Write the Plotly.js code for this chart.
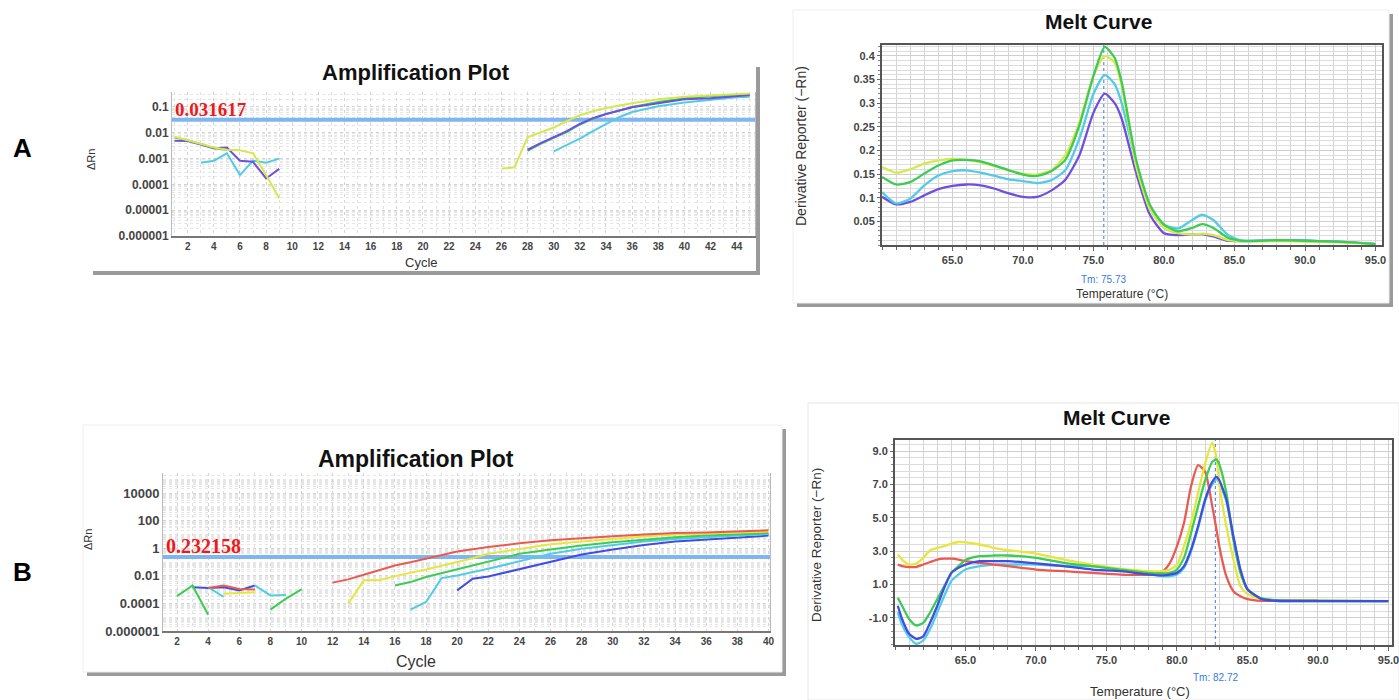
<!DOCTYPE html>
<html><head><meta charset="utf-8">
<script src="https://cdn.plot.ly/plotly-3.0.1.min.js"></script>
<style>html,body{margin:0;padding:0;background:#fff}#chart{width:1399px;height:700px}</style>
</head><body><div id="chart"></div>
<script>
// ---------- Panel A: Amplification Plot (ΔRn, log) ----------
const thresholdA = 0.031617;
const ampA_yellow_x = [1,2,3,4,5,6,7,8,9,null,26,27,28,29,30,31,32,33,34,36,38,40,42,44,45];
const ampA_yellow_y = [0.0070,0.0052,0.0038,0.0027,0.0022,0.0021,0.0016,0.00023,0.000029,null,0.0004,0.00046,0.0067,0.010,0.016,0.028,0.048,0.068,0.091,0.14,0.20,0.25,0.28,0.32,0.33];
const ampA_green_x = [1,2,3,4,5,null,28,29,30,31,32,33,34,36,38,40,42,44,45];
const ampA_green_y = [0.0065,0.0052,0.0036,0.0025,0.0022,null,0.0020,0.0037,0.0063,0.0105,0.021,0.035,0.053,0.10,0.156,0.22,0.26,0.30,0.32];
const ampA_purple_x = [1,2,3,4,5,6,7,8,9,null,28,29,30,31,32,33,34,35,36,38,40,42,44,45];
const ampA_purple_y = [0.0049,0.0048,0.0035,0.0025,0.0027,0.00083,0.00075,0.00017,0.0004,null,0.0022,0.004,0.0067,0.0115,0.022,0.037,0.053,0.074,0.097,0.14,0.20,0.22,0.27,0.29];
const ampA_cyan_x = [3,4,5,6,7,8,9,null,30,31,32,33,34,35,36,38,40,42,44,45];
const ampA_cyan_y = [0.00069,0.00083,0.0016,0.00023,0.00083,0.00069,0.001,null,0.0019,0.0033,0.0059,0.0115,0.022,0.04,0.064,0.107,0.15,0.19,0.24,0.25];
const ampA_xticks = [2,4,6,8,10,12,14,16,18,20,22,24,26,28,30,32,34,36,38,40,42,44];
const ampA_yticks = [0.1,0.01,0.001,0.0001,0.00001,0.000001];
const ampA_yticklabels = ['0.1','0.01','0.001','0.0001','0.00001','0.000001'];

// ---------- Panel A: Melt Curve ----------
const tmA = 75.73;
const meltA_temp = [60,61,62,63,64,65,66,67,68,69,70,71,72,73,74,75,75.8,76.5,77,78,79,80,81,82,82.7,83.5,84.5,85.5,88,90,93,95];
const meltA_yellow = [0.165,0.153,0.16,0.172,0.179,0.182,0.18,0.175,0.167,0.158,0.151,0.149,0.158,0.19,0.26,0.358,0.40,0.386,0.337,0.17,0.075,0.036,0.025,0.022,0.024,0.021,0.011,0.008,0.008,0.007,0.005,0.002];
const meltA_green = [0.144,0.128,0.133,0.151,0.168,0.179,0.18,0.177,0.168,0.158,0.149,0.146,0.156,0.18,0.253,0.358,0.419,0.396,0.344,0.183,0.085,0.043,0.029,0.036,0.044,0.036,0.016,0.009,0.010,0.009,0.006,0.002];
const meltA_cyan = [0.112,0.088,0.098,0.126,0.147,0.156,0.158,0.153,0.146,0.139,0.135,0.131,0.137,0.158,0.225,0.32,0.36,0.34,0.30,0.176,0.078,0.043,0.035,0.053,0.064,0.053,0.022,0.009,0.010,0.009,0.006,0.002];
const meltA_purple = [0.102,0.086,0.091,0.105,0.118,0.125,0.128,0.126,0.119,0.109,0.102,0.102,0.115,0.138,0.19,0.28,0.32,0.30,0.267,0.155,0.064,0.025,0.021,0.022,0.023,0.018,0.009,0.008,0.010,0.009,0.006,0.002];
const meltA_yticks = [0.05,0.1,0.15,0.2,0.25,0.3,0.35,0.4];
const meltA_yticklabels = ['0.05','0.1','0.15','0.2','0.25','0.3','0.35','0.4'];
const melt_xticks = [65,70,75,80,85,90,95];
const melt_xticklabels = ['65.0','70.0','75.0','80.0','85.0','90.0','95.0'];

// ---------- Panel B: Amplification Plot ----------
const thresholdB = 0.232158;
const ampB_red_x = [4,5,6,7,null,12,13,14,16,17,18,19,20,22,24,26,28,30,32,34,36,38,40];
const ampB_red_y = [0.0013,0.002,0.0011,0.001,null,0.0032,0.0055,0.0118,0.056,0.097,0.17,0.33,0.57,1.2,2.3,3.8,5.5,7.4,9.8,12.8,14,16,20];
const ampB_yellow_x = [5,6,7,null,13,14,15,16,18,20,21,22,24,26,28,30,32,34,36,38,40];
const ampB_yellow_y = [0.0005,0.0006,0.00065,null,0.000095,0.0047,0.0047,0.0095,0.029,0.098,0.19,0.39,0.9,1.9,3.0,4.7,7.0,9.8,11.5,14,16];
const ampB_green_x = [2,3,4,null,8,9,10,null,16,17,18,20,22,23,24,26,28,30,32,34,36,38,40];
const ampB_green_y = [0.00034,0.002,0.000015,null,0.000035,0.00022,0.00105,null,0.002,0.0035,0.0081,0.029,0.098,0.19,0.39,0.8,1.6,2.7,4.2,6.2,8.2,10,12.7];
const ampB_cyan_x = [4,5,null,7,8,9,null,17,18,19,20,22,24,25,26,28,30,32,34,36,38,40];
const ampB_cyan_y = [0.0015,0.00029,null,0.002,0.00038,0.0004,null,0.000035,0.000126,0.0068,0.0107,0.032,0.11,0.21,0.39,0.9,1.6,3.0,4.7,6.6,8.2,10.8];
const ampB_blue_x = [3,4,5,6,7,null,20,21,22,24,26,27,28,30,32,34,36,38,40];
const ampB_blue_y = [0.0015,0.0013,0.0015,0.00087,0.002,null,0.00088,0.0061,0.0089,0.029,0.098,0.19,0.35,0.8,1.7,3.0,4.2,5.5,8.2];
const ampB_xticks = [2,4,6,8,10,12,14,16,18,20,22,24,26,28,30,32,34,36,38,40];
const ampB_yticks = [10000,100,1,0.01,0.0001,0.000001];
const ampB_yticklabels = ['10000','100','1','0.01','0.0001','0.000001'];

// ---------- Panel B: Melt Curve ----------
const tmB = 82.72;
const meltB_temp = [60.2,60.5,61,61.5,62,62.5,63,63.5,64,64.5,65,66,67,68,70,72,74,76,78,79,79.5,80,80.5,81,81.5,82,82.5,82.8,83,83.5,84,84.5,85,86,87,90,95];
const meltB_red = [2.2,2.1,2.05,2.05,2.2,2.35,2.5,2.55,2.55,2.5,2.4,2.3,2.2,2.1,1.9,1.8,1.7,1.6,1.6,1.8,2.3,3.3,4.7,6.9,8.15,7.75,5.7,4.3,3.3,1.5,0.6,0.3,0.13,0.03,0.05,0.07,null];
const meltB_yellow = [2.8,2.5,2.2,2.25,2.6,3.06,3.2,3.3,3.45,3.55,3.53,3.4,3.2,3.06,2.86,2.5,2.2,1.95,1.8,1.8,1.9,2.2,3.3,4.7,6.5,8.25,9.5,8.6,7.0,4.5,2.5,0.9,0.43,0.13,0.07,0.03,0.01];
const meltB_green = [0.2,-0.27,-1.06,-1.45,-1.3,-0.66,0.13,0.92,1.7,2.1,2.47,2.7,2.74,2.74,2.6,2.3,2.1,1.9,1.7,1.67,1.7,1.9,2.6,4.1,5.7,7.25,8.35,8.5,8.2,6.5,3.7,1.7,0.72,0.17,0.07,0.03,0.01];
const meltB_cyan = [-0.66,-1.4,-2.15,-2.55,-2.35,-1.65,-0.66,0.33,1.22,1.6,1.9,2.1,2.2,2.2,2.2,2.1,2.1,1.9,1.7,1.5,1.5,1.6,2.0,3.0,4.4,6.0,7.0,7.3,7.1,6.0,3.8,1.8,0.7,0.13,0.03,0.01,0.01];
const meltB_blue = [-0.27,-1.06,-1.95,-2.25,-2.1,-1.26,-0.27,0.82,1.7,2.0,2.2,2.4,2.4,2.4,2.27,2.1,1.9,1.8,1.6,1.55,1.6,1.7,2.1,3.1,4.5,6.1,7.15,7.45,7.25,6.1,3.9,1.9,0.72,0.13,0.03,0.01,0.01];
const meltB_yticks = [-1,1,3,5,7,9];
const meltB_yticklabels = ['-1.0','1.0','3.0','5.0','7.0','9.0'];

// ---------- colours ----------
const C = {yellow:'#d6e84c', yellowB:'#e6e63c', green:'#3ccc55', purple:'#6f4fe0', cyan:'#52cce6', red:'#ea5a50', blue:'#3f4ee0', thr:'#7fb6f2', tm:'#3a78e6'};

const W = 1399, H = 700;
const px = v => v / W, py = v => 1 - v / H;

function line(x, y, color, xa, ya, extra) {
  return Object.assign({type:'scatter', mode:'lines', x, y, xaxis:xa, yaxis:ya,
    line:{color, width:2}, connectgaps:false, hoverinfo:'skip'}, extra || {});
}
function sline(x, y, color, xa, ya){ return {type:'scatter', mode:'lines', x, y, xaxis:xa, yaxis:ya, line:{color, width:2.3, shape:'spline', smoothing:0.6}, connectgaps:false, hoverinfo:'skip'}; }

const data = [
  line([0.8,45.4],[thresholdA,thresholdA],C.thr,'x','y',{line:{color:C.thr,width:4}}),
  line(ampA_cyan_x, ampA_cyan_y, C.cyan, 'x','y'),
  line(ampA_green_x, ampA_green_y, C.green, 'x','y'),
  line(ampA_purple_x, ampA_purple_y, C.purple, 'x','y'),
  line(ampA_yellow_x, ampA_yellow_y, C.yellow, 'x','y'),
  line([tmA,tmA],[0,0.423],C.tm,'x2','y2',{line:{color:C.tm,width:1,dash:'dot'}}),
  sline(meltA_temp, meltA_purple, C.purple, 'x2','y2'),
  sline(meltA_temp, meltA_cyan, C.cyan, 'x2','y2'),
  sline(meltA_temp, meltA_yellow, C.yellow, 'x2','y2'),
  sline(meltA_temp, meltA_green, C.green, 'x2','y2'),
  line([1.1,40.1],[thresholdB,thresholdB],C.thr,'x3','y3',{line:{color:C.thr,width:4}}),
  line(ampB_blue_x, ampB_blue_y, C.blue, 'x3','y3'),
  line(ampB_cyan_x, ampB_cyan_y, C.cyan, 'x3','y3'),
  line(ampB_green_x, ampB_green_y, C.green, 'x3','y3'),
  line(ampB_yellow_x, ampB_yellow_y, C.yellowB, 'x3','y3'),
  line(ampB_red_x, ampB_red_y, C.red, 'x3','y3'),
  line([tmB,tmB],[-2.62,9.66],C.tm,'x4','y4',{line:{color:C.tm,width:1,dash:'dot'}}),
  sline(meltB_temp, meltB_cyan, C.cyan, 'x4','y4'),
  sline(meltB_temp, meltB_red, C.red, 'x4','y4'),
  sline(meltB_temp, meltB_yellow, C.yellowB, 'x4','y4'),
  sline(meltB_temp, meltB_green, C.green, 'x4','y4'),
  sline(meltB_temp, meltB_blue, C.blue, 'x4','y4')
];

const FAM = 'Liberation Sans, Arial, sans-serif';
const tickF = {family:FAM, size:11, color:'#444', weight:'bold'};
const dotGrid = '#d4d4d4';
function ampX(dom, range, ticks, anchor, fs){
  return {domain:dom, range, anchor, tickmode:'array', tickvals:ticks, ticktext:ticks.map(String),
    tickfont:Object.assign({},tickF,{size:fs}), showgrid:true, gridcolor:dotGrid, griddash:'dot', gridwidth:1,
    minor:{dtick:1, tick0:0, showgrid:true, gridcolor:'#e0e0e0', griddash:'dot'},
    showline:true, linecolor:'#777', linewidth:2, mirror:false, ticks:'', zeroline:false, fixedrange:true, ticklabeloverflow:'allow'};
}
function ampY(dom, range, tv, tt, anchor, fs){
  return {domain:dom, type:'log', range, anchor, tickmode:'array', tickvals:tv, ticktext:tt,
    tickfont:Object.assign({},tickF,{size:fs}), showgrid:true, gridcolor:dotGrid, griddash:'dot',
    minor:{dtick:'D1', showgrid:true, gridcolor:'#e6e6e6', griddash:'dot'},
    showline:true, linecolor:'#bbb', linewidth:1, mirror:true, ticks:'', zeroline:false, fixedrange:true, ticklabeloverflow:'allow'};
}
function meltX(dom, range, anchor){
  return {domain:dom, range, anchor, tickmode:'array', tickvals:melt_xticks, ticktext:melt_xticklabels,
    tickfont:tickF, showgrid:true, gridcolor:'#cfcfcf', gridwidth:1,
    minor:{dtick:1, tick0:0, showgrid:true, gridcolor:'#d4d4d4', ticks:'outside', ticklen:3, tickcolor:'#666'},
    ticks:'outside', ticklen:4, tickcolor:'#666', ticklabeloverflow:'allow',
    showline:true, linecolor:'#555', linewidth:2, mirror:true, zeroline:false, fixedrange:true};
}
function meltY(dom, range, tv, tt, anchor, minorStep, tick0){
  return {domain:dom, range, anchor, tickmode:'array', tickvals:tv, ticktext:tt,
    tickfont:tickF, showgrid:true, gridcolor:'#cfcfcf',
    minor:{dtick:minorStep, tick0:tick0, showgrid:true, gridcolor:'#dcdcdc', ticks:'outside', ticklen:2, tickcolor:'#888'},
    ticks:'outside', ticklen:3, tickcolor:'#666', ticklabeloverflow:'allow',
    showline:true, linecolor:'#555', linewidth:2, mirror:true, zeroline:false, fixedrange:true};
}

const titleF = s => ({family:FAM, size:s, color:'#111'});
const axF = {family:FAM, size:12, color:'#333'};
function ann(text, x, y, font, extra){ return Object.assign({text, x:px(x), y:py(y), xref:'paper', yref:'paper', xanchor:'center', yanchor:'middle', showarrow:false, font}, extra||{}); }

const layout = {
  width:W, height:H, margin:{l:0,r:0,t:0,b:0}, paper_bgcolor:'#fff', plot_bgcolor:'#fff', showlegend:false,
  xaxis: ampX([px(172),px(755)],[0.8,45.4],ampA_xticks,'y',10),
  yaxis: ampY([py(236),py(92)],[-6,-0.42],ampA_yticks,ampA_yticklabels,'x',12),
  xaxis2: meltX([px(882),px(1382)],[60,95.46],'y2'),
  yaxis2: meltY([py(245),py(45)],[0,0.423],meltA_yticks,meltA_yticklabels,'x2',0.01,0),
  xaxis3: ampX([px(163),px(770)],[1.1,40.1],ampB_xticks,'y3',10),
  yaxis3: ampY([py(631),py(473)],[-6,5.45],ampB_yticks,ampB_yticklabels,'x3',13),
  xaxis4: meltX([px(895),px(1392)],[60,95.25],'y4'),
  yaxis4: meltY([py(645),py(440)],[-2.62,9.66],meltB_yticks,meltB_yticklabels,'x4',0.4,1),
  shapes: [
    {type:'rect', xref:'paper', yref:'paper', x0:px(93), x1:px(760), y0:py(67), y1:py(275), fillcolor:'#9a9a9a', line:{width:0}, layer:'below'},
    {type:'rect', xref:'paper', yref:'paper', x0:px(88), x1:px(756), y0:py(62), y1:py(271), fillcolor:'#fff', line:{width:0}, layer:'below'},
    {type:'rect', xref:'paper', yref:'paper', x0:px(797), x1:px(1393), y0:py(14), y1:py(307), fillcolor:'#9a9a9a', line:{width:0}, layer:'below'},
    {type:'rect', xref:'paper', yref:'paper', x0:px(793), x1:px(1389), y0:py(10), y1:py(303), fillcolor:'#fff', line:{color:'#eee',width:1}, layer:'below'},
    {type:'rect', xref:'paper', yref:'paper', x0:px(87), x1:px(786), y0:py(429), y1:py(676), fillcolor:'#9a9a9a', line:{width:0}, layer:'below'},
    {type:'rect', xref:'paper', yref:'paper', x0:px(83), x1:px(782), y0:py(425), y1:py(672), fillcolor:'#fff', line:{color:'#eee',width:1}, layer:'below'},
    {type:'rect', xref:'paper', yref:'paper', x0:px(808), x1:px(1399), y0:py(403), y1:py(700), fillcolor:'#fff', line:{color:'#e6e6e6',width:1}, layer:'below'}
  ],
  annotations: [
    ann('<b>A</b>', 22, 148, {family:FAM, size:26, color:'#000'}),
    ann('<b>B</b>', 22, 572, {family:FAM, size:26, color:'#000'}),
    ann('<b>Amplification Plot</b>', 416, 72, titleF(22)),
    ann('<b>Melt Curve</b>', 1098, 21, titleF(21)),
    ann('<b>Amplification Plot</b>', 416, 459, titleF(23)),
    ann('<b>Melt Curve</b>', 1116, 417, titleF(21)),
    ann('ΔRn', 91, 160, Object.assign({},axF,{size:11}), {textangle:-90}),
    ann('Cycle', 421, 262, Object.assign({},axF,{size:13})),
    ann('ΔRn', 88, 540, Object.assign({},axF,{size:11}), {textangle:-90}),
    ann('Cycle', 416, 661, Object.assign({},axF,{size:16})),
    ann('Derivative Reporter (−Rn)', 801, 146, Object.assign({},axF,{size:14}), {textangle:-90}),
    ann('Temperature (°C)', 1122, 294, axF),
    ann('Derivative Reporter (−Rn)', 816, 545, Object.assign({},axF,{size:13.5}), {textangle:-90}),
    ann('Temperature (°C)', 1140, 691, Object.assign({},axF,{size:13})),
    {text:'Tm: 75.73', x:tmA, xref:'x2', y:py(279), yref:'paper', xanchor:'center', yanchor:'middle', showarrow:false, font:{family:FAM, size:10, color:C.tm}},
    {text:'Tm: 82.72', x:tmB, xref:'x4', y:py(677), yref:'paper', xanchor:'center', yanchor:'middle', showarrow:false, font:{family:FAM, size:10, color:C.tm}},
    {text:'<b>'+String(thresholdA)+'</b>', x:0.9, xref:'x', y:Math.log10(thresholdA), yref:'y', xanchor:'left', yanchor:'bottom', yshift:-2, showarrow:false, font:{family:'Liberation Serif, Times New Roman, serif', size:19, color:'#f01818'}},
    {text:'<b>'+String(thresholdB)+'</b>', x:1.15, xref:'x3', y:Math.log10(thresholdB), yref:'y3', xanchor:'left', yanchor:'bottom', yshift:-2, showarrow:false, font:{family:'Liberation Serif, Times New Roman, serif', size:20, color:'#f01818'}}
  ]
};

Plotly.newPlot('chart', data, layout, {staticPlot:true, displayModeBar:false});
</script>
</body></html>
